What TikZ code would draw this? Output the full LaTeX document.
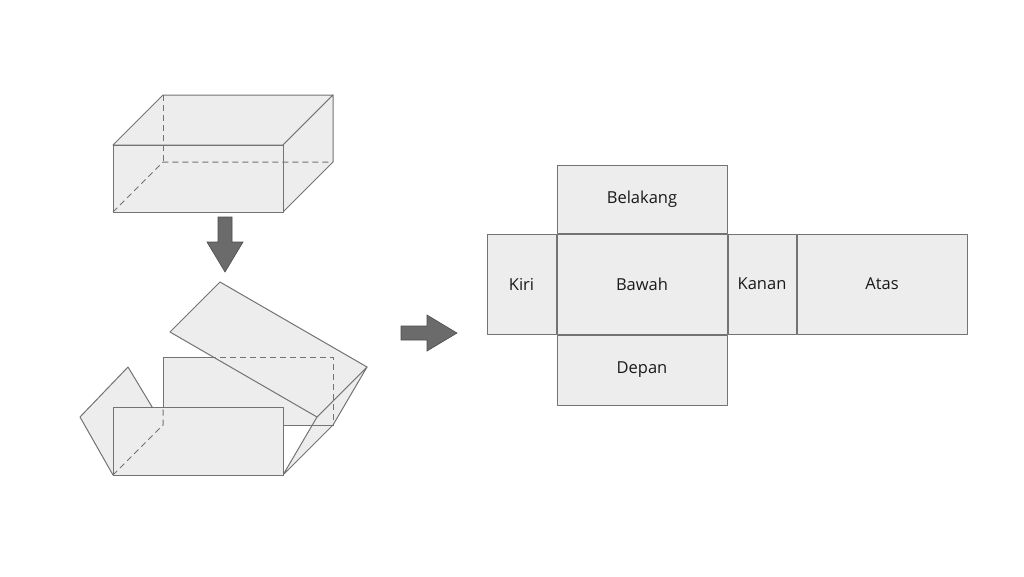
\documentclass[tikz,border=0pt]{standalone}
\usepackage{fontspec}
\setmainfont{Open Sans}
\begin{document}
\begin{tikzpicture}[x=1pt,y=-1pt,
	face/.style={draw=black!55,fill=black!7,line width=1pt,line join=round},
	hid/.style={draw=black!55,dashed,line width=1pt,dash pattern=on 6pt off 4pt},
	blk/.style={fill=black!58,draw=black!70,line width=0.6pt},
	lbl/.style={font=\fontsize{16.5}{19}\selectfont,text=black!90}]
	\useasboundingbox (0,0) rectangle (1024,576);
	% box
	\draw[face] (113,145) -- (163,95) -- (333,95) -- (283,145) -- cycle;
	\draw[face] (283,145) -- (333,95) -- (333,162) -- (283,212) -- cycle;
	\draw[face] (113,145) rectangle (283,212);
	\draw[hid] (113,212) -- (163,162) -- (333,162);
	\draw[hid] (163,95) -- (163,162);
	% arrow down
	\draw[blk] (218,217) -- (232,217) -- (232,242) -- (243,242) -- (225,272) -- (207,242) -- (218,242) -- cycle;
	% unfolding box
	\draw[face] (113,475) -- (80,417) -- (128,367) -- (163,425) -- cycle;
	\draw[face] (163,357) rectangle (333,425);
	\draw[face] (283,475) -- (317,417) -- (367,367) -- (333,425) -- cycle;
	\draw[face] (220,282) -- (367,367) -- (317,417) -- (170,332) -- cycle;
	\draw[hid] (210,357) -- (333,357) -- (333,425) -- (163,425);
	\draw[face] (113,407) rectangle (283,475);
	\draw[hid] (113,475) -- (163,425) -- (163,407);
	\draw[hid] (283,425) -- (333,425);
	% arrow right
	\draw[blk] (401,326) -- (427,326) -- (427,315) -- (457,333) -- (427,351) -- (427,340) -- (401,340) -- cycle;
	% net
	\node[face,lbl,minimum width=170pt,minimum height=68pt,inner sep=0pt] (belakang) at (642,199) {Belakang};
	\node[face,lbl,minimum width=170pt,minimum height=100pt,inner sep=0pt,anchor=north] (bawah) at (belakang.south) {Bawah};
	\node[face,lbl,minimum width=69pt,minimum height=100pt,inner sep=0pt,anchor=east] (kiri) at (bawah.west) {Kiri};
	\node[face,lbl,minimum width=68pt,minimum height=100pt,inner sep=0pt,anchor=west] (kanan) at (bawah.east) {Kanan};
	\node[face,lbl,minimum width=170pt,minimum height=100pt,inner sep=0pt,anchor=west] (atas) at (kanan.east) {Atas};
	\node[face,lbl,minimum width=170pt,minimum height=70pt,inner sep=0pt,anchor=north] (depan) at (bawah.south) {Depan};
\end{tikzpicture}
\end{document}
